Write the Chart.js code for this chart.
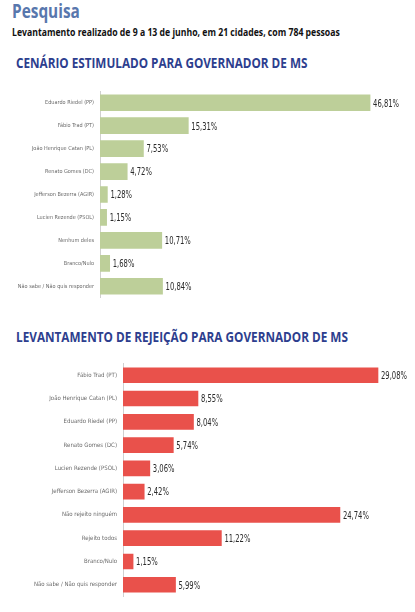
<!DOCTYPE html>
<html>
<head>
<meta charset="utf-8">
<script src="https://cdn.jsdelivr.net/npm/chart.js@4"></script>
<style>
  body { margin: 0; background: #fff; width: 415px; height: 612px; position: relative; overflow: hidden; }
  .t { position: absolute; white-space: nowrap; font-family: 'Open Sans', sans-serif; font-weight: bold; transform-origin: 0 0; }
  #titulo { left: 12px; top: -2px; font-size: 19px; color: #5877ad; }
  #sub { left: 12px; top: 25px; font-size: 10.5px; color: #111; }
  #h1 { left: 16px; top: 54px; font-size: 13.5px; color: #2d3e8e; }
  #h2 { left: 16px; top: 328px; font-size: 13.5px; color: #2d3e8e; }
  canvas { position: absolute; left: 0; }
  #grafica1 { top: 82px; }
  #grafica2 { top: 354px; }
</style>
</head>
<body>
<div class="t" id="titulo" data-w="68">Pesquisa</div>
<div class="t" id="sub" data-w="328">Levantamento realizado de 9 a 13 de junho, em 21 cidades, com 784 pessoas</div>
<div class="t" id="h1" data-w="291">CENÁRIO ESTIMULADO PARA GOVERNADOR DE MS</div>
<div class="t" id="h2" data-w="332">LEVANTAMENTO DE REJEIÇÃO PARA GOVERNADOR DE MS</div>
<canvas id="grafica1" width="415" height="225"></canvas>
<canvas id="grafica2" width="415" height="252"></canvas>
<script>
const candidatosEstimulado = [
  'Eduardo Riedel (PP)',
  'Fábio Trad (PT)',
  'João Henrique Catan (PL)',
  'Renato Gomes (DC)',
  'Jefferson Bezerra (AGIR)',
  'Lucien Rezende (PSOL)',
  'Nenhum deles',
  'Branco/Nulo',
  'Não sabe / Não quis responder'
];
const valoresEstimulado = [46.81, 15.31, 7.53, 4.72, 1.28, 1.15, 10.71, 1.68, 10.84];

const candidatosRejeicao = [
  'Fábio Trad (PT)',
  'João Henrique Catan (PL)',
  'Eduardo Riedel (PP)',
  'Renato Gomes (DC)',
  'Lucien Rezende (PSOL)',
  'Jefferson Bezerra (AGIR)',
  'Não rejeito ninguém',
  'Rejeito todos',
  'Branco/Nulo',
  'Não sabe / Não quis responder'
];
const valoresRejeicao = [29.08, 8.55, 8.04, 5.74, 3.06, 2.42, 24.74, 11.22, 1.15, 5.99];

// títulos em fonte "condensada": encolhe na horizontal até a largura do original
document.querySelectorAll('.t').forEach((el) => {
  const alvo = Number(el.dataset.w);
  el.style.transform = `scaleX(${alvo / el.offsetWidth})`;
});

// escreve o valor ao lado de cada barra
const rotulos = {
  id: 'rotulos',
  afterDatasetsDraw(chart) {
    const ctx = chart.ctx;
    const meta = chart.getDatasetMeta(0);
    const dados = chart.data.datasets[0].data;
    ctx.save();
    ctx.font = '11px "DejaVu Sans", sans-serif';
    ctx.fillStyle = '#2a2a2a';
    ctx.textBaseline = 'middle';
    meta.data.forEach((bar, i) => {
      const txt = dados[i].toFixed(2).replace('.', ',') + '%';
      ctx.save();
      ctx.translate(bar.x + 3, bar.y + 1);
      ctx.scale(0.62, 1);
      ctx.fillText(txt, 0, 0);
      ctx.restore();
    });
    ctx.restore();
  }
};

function criarGrafico(id, labels, data, cor, larguraEixo, maximo, espessura, tamFonte, padDir) {
  const ctx = document.getElementById(id).getContext('2d');
  return new Chart(ctx, {
    type: 'bar',
    data: {
      labels,
      datasets: [{
        data,
        backgroundColor: cor,
        barThickness: espessura
      }]
    },
    options: {
      indexAxis: 'y',
      responsive: false,
      animation: false,
      devicePixelRatio: 1,
      layout: { padding: { top: 0, bottom: 0, left: 0, right: padDir } },
      plugins: {
        legend: { display: false },
        tooltip: { enabled: false }
      },
      scales: {
        x: { display: false, min: 0, max: maximo },
        y: {
          grid: { display: false, drawTicks: false },
          border: { display: true, color: '#d0d0d0' },
          ticks: {
            padding: 6,
            color: '#6a6a6a',
            font: { family: '"Liberation Sans Narrow", "DejaVu Sans Condensed", sans-serif', size: tamFonte }
          },
          afterFit: (s) => { s.width = larguraEixo; }
        }
      }
    },
    plugins: [rotulos]
  });
}

criarGrafico('grafica1', candidatosEstimulado, valoresEstimulado, '#bdcf99', 100, 52, 16, 5.5, 15);
criarGrafico('grafica2', candidatosRejeicao, valoresRejeicao, '#e9514b', 123, 33.3, 15, 6, 0);
</script>
</body>
</html>
